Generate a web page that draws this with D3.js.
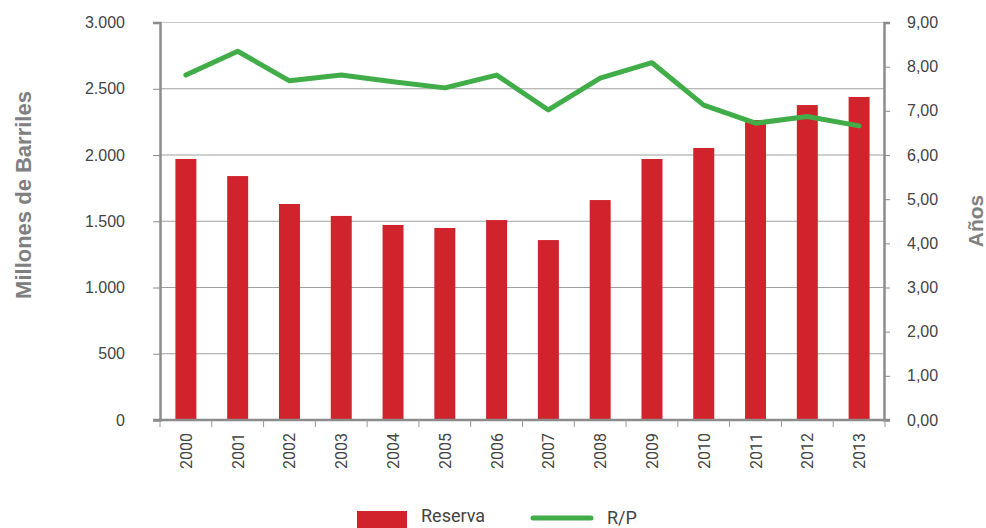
<!DOCTYPE html>
<html><head><meta charset="utf-8">
<script src="https://cdn.jsdelivr.net/npm/d3@7"></script>
<style>body{margin:0;background:#fff}svg{display:block;font-family:Roboto,"Liberation Sans",sans-serif}</style>
</head><body>
<script>
const years = ["2000","2001","2002","2003","2004","2005","2006","2007","2008","2009","2010","2011","2012","2013"];
const reserva = [1970,1841,1630,1540,1472,1449,1509,1358,1660,1970,2053,2264,2377,2438];
const rp = [7.81,8.35,7.68,7.81,7.66,7.52,7.81,7.02,7.74,8.09,7.13,6.72,6.87,6.66];
const leftTicks = [0,500,1000,1500,2000,2500,3000];
const rightTicks = [0,1,2,3,4,5,6,7,8,9];

const W=986,H=528;
const svg=d3.select("body").append("svg").attr("width",W).attr("height",H);
const L=160,R=885,T=22.5,B=420;
const x=d3.scaleBand().domain(years).range([L,R]).paddingInner(0.595).paddingOuter(0.2975);
const xb=d3.scaleBand().domain(years).range([L,R]);
const yL=d3.scaleLinear().domain([0,3000]).range([B,T]);
const yR=d3.scaleLinear().domain([0,9]).range([B,T]);
const fmtL=d3.formatLocale({decimal:",",thousands:".",grouping:[3],currency:["",""]});
const fL=fmtL.format(",d"), fR=fmtL.format(",.2f");

// gridlines
svg.append("g").selectAll("line").data(leftTicks.filter(d=>d>0)).join("line")
 .attr("x1",L).attr("x2",R).attr("y1",d=>yL(d)).attr("y2",d=>yL(d))
 .attr("stroke",d=>d===3000?"#c8c8c8":"#a0a0a0").attr("stroke-width",1.2);

// bars
svg.append("g").selectAll("rect").data(years).join("rect")
 .attr("x",d=>x(d)).attr("width",x.bandwidth())
 .attr("y",(d,i)=>yL(reserva[i])).attr("height",(d,i)=>B-yL(reserva[i]))
 .attr("fill","#d0232b");

// line
svg.append("path").datum(rp)
 .attr("d",d3.line().x((d,i)=>xb(years[i])+xb.bandwidth()/2).y(d=>yR(d)))
 .attr("fill","none").attr("stroke","#41ad49").attr("stroke-width",5).attr("stroke-linecap","round").attr("stroke-linejoin","round");

// left axis
const gl=svg.append("g").attr("transform",`translate(${L},0)`)
 .call(d3.axisLeft(yL).tickValues(leftTicks).tickFormat(fL).tickSize(7).tickPadding(28));
gl.select(".domain").attr("stroke","#8c8c8c").attr("stroke-width",2.5);
gl.selectAll(".tick line").attr("stroke","#8c8c8c").attr("stroke-width",1);
gl.selectAll("text").attr("fill","#444").attr("font-size",16);

// right axis
const gr=svg.append("g").attr("transform",`translate(${R-1},0)`)
 .call(d3.axisRight(yR).tickValues(rightTicks).tickFormat(fR).tickSize(6).tickPadding(17));
gr.select(".domain").attr("stroke","#8c8c8c").attr("stroke-width",2.5);
gr.selectAll(".tick line").attr("stroke","#8c8c8c").attr("stroke-width",1);
gr.selectAll("text").attr("fill","#444").attr("font-size",16);

// bottom axis
const gb=svg.append("g").attr("transform",`translate(0,${B})`);
gb.append("line").attr("x1",L-7).attr("x2",R+5).attr("y1",0).attr("y2",0).attr("stroke","#8c8c8c").attr("stroke-width",2.5);
gb.selectAll(".tk").data(d3.range(years.length+1)).join("line").attr("class","tk")
 .attr("x1",i=>L+i*xb.bandwidth()).attr("x2",i=>L+i*xb.bandwidth()).attr("y1",0).attr("y2",7)
 .attr("stroke","#9a9a9a").attr("stroke-width",1);
gb.selectAll("text").data(years).join("text")
 .attr("transform",d=>`translate(${xb(d)+xb.bandwidth()/2+6},13) rotate(-90)`)
 .attr("text-anchor","end").attr("fill","#444").attr("font-size",16).text(d=>d);

// axis titles
svg.append("text").attr("transform","translate(31,195) rotate(-90)").attr("text-anchor","middle")
 .attr("font-family","'Liberation Sans',Arial,sans-serif")
 .attr("font-weight","bold").attr("font-size",22).attr("fill","#808080").text("Millones de Barriles");
svg.append("text").attr("transform","translate(983,221) rotate(-90)").attr("text-anchor","middle")
 .attr("font-family","'Liberation Sans',Arial,sans-serif")
 .attr("font-weight","bold").attr("font-size",21).attr("fill","#808080").text("Años");

// legend
svg.append("rect").attr("x",357).attr("y",511).attr("width",50).attr("height",17).attr("fill","#d0232b");
svg.append("text").attr("x",421).attr("y",522).attr("font-size",18).attr("fill","#444").text("Reserva");
svg.append("line").attr("x1",533).attr("x2",591).attr("y1",518).attr("y2",518).attr("stroke","#41ad49").attr("stroke-width",5).attr("stroke-linecap","round");
svg.append("text").attr("x",607).attr("y",524).attr("font-size",18).attr("fill","#444").text("R/P");
</script>
</body></html>
